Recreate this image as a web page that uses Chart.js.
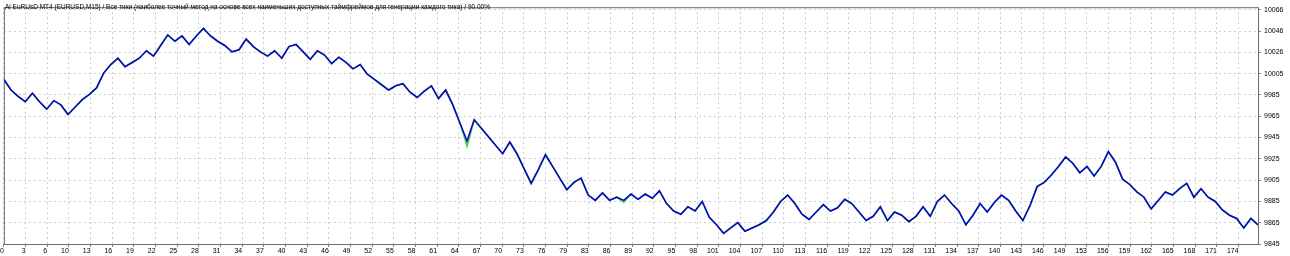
<!DOCTYPE html>
<html>
<head>
<meta charset="utf-8">
<script src="https://cdn.jsdelivr.net/npm/chart.js@4.4.1/dist/chart.umd.min.js"></script>
<style>
  html, body { margin: 0; padding: 0; background: #fff; }
  #wrap { width: 1290px; height: 256px; }
</style>
</head>
<body>
<div id="wrap"><canvas id="balance" width="1290" height="256"></canvas></div>
<script>
"use strict";

// report header
var title = "Ai EuRUsD MT4 (EURUSD,M15) / Все тики (наиболее точный метод на основе всех наименьших доступных таймфреймов для генерации каждого тика) / 90.00%";

// balance after each trade, 0..176
var balance = [
	10000, 9990, 9984, 9979, 9987, 9979, 9972, 9980, 9976, 9967,
	9974, 9981, 9986, 9992, 10006, 10014, 10020, 10012, 10016, 10020,
	10027, 10022, 10032, 10042, 10036, 10041, 10033, 10041, 10048, 10041,
	10036, 10032, 10026, 10028, 10038, 10031, 10026, 10022, 10027, 10020,
	10031, 10033, 10026, 10019, 10027, 10023, 10015, 10021, 10016, 10010,
	10014, 10005, 10000, 9995, 9990, 9994, 9996, 9988, 9983, 9989,
	9994, 9982, 9990, 9976, 9959, 9942, 9962, 9954, 9946, 9938,
	9930, 9941, 9930, 9916, 9902, 9915, 9929, 9918, 9907, 9896,
	9903, 9907, 9891, 9886, 9893, 9886, 9889, 9886, 9892, 9887,
	9892, 9888, 9895, 9883, 9876, 9873, 9880, 9876, 9885, 9870,
	9863, 9855, 9860, 9865, 9857, 9860, 9863, 9867, 9875, 9885,
	9891, 9883, 9873, 9868, 9875, 9882, 9876, 9879, 9887, 9883,
	9875, 9867, 9871, 9880, 9867, 9875, 9872, 9866, 9871, 9880,
	9871, 9885, 9891, 9883, 9876, 9863, 9872, 9883, 9875, 9884,
	9891, 9886, 9876, 9867, 9881, 9899, 9903, 9910, 9918, 9927,
	9921, 9912, 9918, 9909, 9918, 9932, 9922, 9906, 9901, 9894,
	9889, 9878, 9886, 9894, 9891, 9897, 9902, 9889, 9897, 9889,
	9885, 9877, 9872, 9869, 9860, 9869, 9863
];

// equity differs from balance only where the green shows
var equityDips = { 65: 9937, 87: 9884 };

var xTickLabels = [0, 3, 6, 10, 13, 16, 19, 22, 25, 28, 31, 34, 37, 40, 43, 46, 49, 52, 55, 58,
	61, 64, 67, 70, 73, 76, 79, 83, 86, 89, 92, 95, 98, 101, 104, 107, 110, 113, 116, 119,
	122, 125, 128, 131, 134, 137, 140, 143, 146, 149, 153, 156, 159, 162, 165, 168, 171, 174];
var yTickLabels = ["9845", "9865", "9885", "9905", "9925", "9945", "9965", "9985", "10005", "10026", "10046", "10066"];

var yMin = 9844.9, yStep = 20.07, yMax = 10068.1;
var xMax = 176, xStep = 3.04;

var font = { family: "'Liberation Sans', Arial, sans-serif", size: 7 };

var balancePts = balance.map(function (v, i) { return { x: i, y: v }; });
var equityPts = balance.map(function (v, i) { return { x: i, y: equityDips[i] !== undefined ? equityDips[i] : v }; });

var framePlugin = {
	id: 'frame',
	beforeDatasetsDraw: function (chart) {
		var a = chart.chartArea, c = chart.ctx;
		c.save();
		c.strokeStyle = '#6e6e6e';
		c.lineWidth = 1;
		c.strokeRect(a.left + 0.5, a.top + 0.5, a.right - a.left, a.bottom - a.top);
		c.restore();
	},
	afterDraw: function (chart) {
		var c = chart.ctx;
		c.save();
		c.fillStyle = '#000';
		c.font = "6.5px 'Liberation Sans', Arial, sans-serif";
		c.textBaseline = 'top';
		c.fillText(title, 5, 4);
		c.restore();
	}
};

var chart = new Chart(document.getElementById('balance'), {
	type: 'line',
	data: {
		datasets: [
			{
				label: 'Balance',
				data: balancePts,
				borderColor: '#0808c0',
				borderWidth: 1.6,
				pointRadius: 0,
				tension: 0,
				fill: false
			},
			{
				label: 'Equity',
				data: equityPts,
				borderColor: '#50d050',
				borderWidth: 1.6,
				pointRadius: 0,
				tension: 0,
				fill: false
			}
		]
	},
	options: {
		responsive: false,
		animation: false,
		devicePixelRatio: 1,
		layout: { padding: { left: 3, top: 3, right: 0, bottom: 0 } },
		plugins: { legend: { display: false }, tooltip: { enabled: false }, title: { display: false } },
		scales: {
			x: {
				type: 'linear',
				min: 0,
				max: xMax,
				afterBuildTicks: function (s) {
					s.ticks = xTickLabels.map(function (l, k) { return { value: k * xStep }; });
				},
				afterFit: function (s) { s.height = 12; },
				ticks: {
					autoSkip: false,
					maxRotation: 0,
					minRotation: 0,
					align: 'end',
					padding: 0,
					color: '#000',
					font: font,
					callback: function (v, i) { return String(xTickLabels[i]); }
				},
				grid: { color: '#cccccc', tickLength: 3, tickColor: '#808080' },
				border: { display: false, dash: [2, 3] }
			},
			y: {
				position: 'right',
				min: yMin,
				max: yMax,
				afterBuildTicks: function (s) {
					s.ticks = yTickLabels.map(function (l, k) { return { value: yMin + k * yStep }; });
				},
				afterFit: function (s) { s.width = 32; },
				ticks: {
					autoSkip: false,
					padding: 3,
					color: '#000',
					font: font,
					callback: function (v, i) { return yTickLabels[i]; }
				},
				grid: { color: '#cccccc', tickLength: 3, tickColor: '#808080' },
				border: { display: false, dash: [2, 3] }
			}
		}
	},
	plugins: [framePlugin]
});
</script>
</body>
</html>
